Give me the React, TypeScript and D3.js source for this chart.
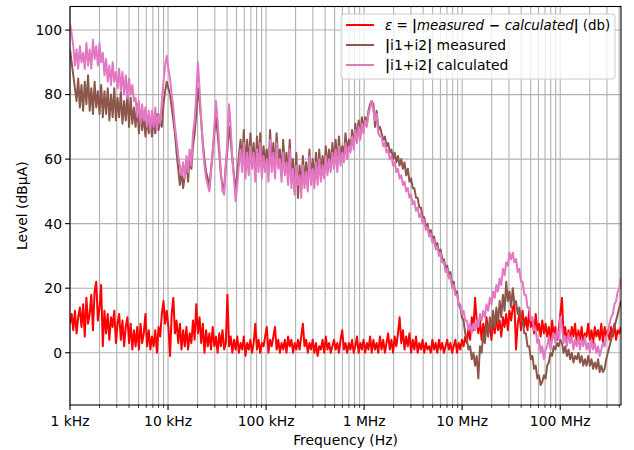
import React from "react";
import * as d3 from "d3";

// ---- data ----
const N_POINTS = 337;
const F_MIN = 1e3;
const F_MAX = 4.17e8;
const freqs: number[] = d3.range(N_POINTS).map((i) => F_MIN * Math.pow(F_MAX / F_MIN, i / (N_POINTS - 1)));

const errorDb: number[] = [
  9, 12, 7, 13, 6, 11, 14, 8, 15, 5,
  17, 9, 12, 18, 7, 19, 22, 10, 14, 21,
  2, 13, 6, 12, 4, 11, 8, 13, 3, 9,
  12, 4, 10, 2, 8, 11, 3, 9, 1, 7,
  2, 8, 1, 9, 3, 6, 12, 2, 7, 1,
  5, 2, 7, 0, 8, 5, 12, 16, 9, 13,
  8, -1, 12, 17, 6, 10, 3, 9, 1, 7,
  2, 8, 1, 6, 3, 10, 4, 15, 6, 11,
  3, 9, 0, 7, 2, 6, 1, 8, 2, 5,
  0, 6, 2, 7, 1, 3, 18, 2, 5, 0,
  4, 1, 5, 0, 3, 1, 5, -1, 3, 1,
  4, 0, 3, 9, 1, 4, 0, 3, 2, 5,
  8, 0, 4, 2, 5, 8, 1, 4, 0, 3,
  1, 4, 0, 5, 2, 4, 0, 3, 1, 4,
  1, 5, 9, 2, 4, 0, 3, 1, 4, 0,
  3, -1, 2, 1, 4, 0, 5, 1, 3, 0,
  2, 4, 1, 3, 0, 4, 7, 1, 3, 0,
  3, 1, 4, 0, 2, 5, 0, 3, 1, 4,
  0, 3, 1, 5, 0, 4, 1, 3, 0, 5,
  1, 4, 0, 3, 6, 1, 4, 0, 5, 2,
  6, 11, 3, 7, 1, 5, 2, 6, 0, 4,
  1, 5, 0, 3, 1, 4, 0, 3, 1, 2,
  0, 4, 1, 3, 0, 4, 1, 3, 0, 2,
  4, 1, 3, 0, 2, 4, 0, 3, 1, 4,
  2, 5, 3, 8, 4, 11, 7, 17, 10, 6,
  10, 4, 9, 5, 11, 6, 9, 4, 10, 6,
  11, 7, 10, 5, 11, 8, 12, 7, 13, 10,
  14, 15, 1, 9, 12, 7, 13, 8, 11, 7,
  13, 8, 10, 6, 12, 7, 9, 5, 10, 6,
  9, 5, 8, 4, 10, 5, 8, 4, 7, 12,
  17, 5, 8, 3, 7, 4, 8, 5, 9, 3,
  7, 4, 8, 3, 6, 5, 9, 4, 7, 3,
  8, 5, 7, 4, 9, 3, 8, 5, 7, 4,
  8, 5, 9, 4, 7, 6, 8,
];

const measured: number[] = [
  94, 90, 86, 82, 78, 85, 76, 83, 75, 84,
  77, 86, 75, 82, 74, 84, 76, 81, 74, 83,
  73, 81, 74, 82, 72, 80, 73, 82, 72, 79,
  73, 81, 71, 78, 72, 80, 70, 79, 71, 76,
  70, 77, 68, 75, 69, 74, 67, 73, 68, 72,
  67, 73, 68, 74, 69, 72, 70, 77, 81, 84,
  82, 80, 76, 72, 68, 62, 57, 52, 56, 51,
  55, 59, 53, 61, 57, 64, 68, 74, 82, 78,
  72, 65, 60, 56, 54, 51, 57, 62, 68, 73,
  68, 62, 55, 52, 51, 58, 63, 70, 66, 60,
  55, 50, 56, 61, 66, 59, 69, 57, 66, 58,
  68, 59, 65, 56, 67, 58, 68, 57, 64, 59,
  63, 56, 69, 58, 65, 57, 68, 59, 63, 55,
  66, 57, 62, 55, 66, 53, 60, 50, 62, 48,
  58, 51, 61, 53, 59, 52, 63, 54, 60, 53,
  62, 54, 63, 55, 61, 56, 64, 57, 63, 58,
  65, 59, 66, 58, 67, 60, 64, 61, 68, 62,
  66, 63, 69, 64, 71, 66, 72, 67, 73, 69,
  73, 71, 75, 77, 78, 77, 70, 75, 69, 70,
  68, 66, 67, 64, 65, 62, 63, 60, 62, 59,
  61, 58, 60, 57, 59, 55, 57, 53, 54, 51,
  51, 48, 48, 45, 45, 42, 42, 39, 40, 37,
  38, 35, 36, 33, 34, 31, 32, 29, 29, 26,
  27, 24, 25, 21, 22, 18, 19, 15, 14, 11,
  10, 6, 4, 1, 2, -2, 0, -4, -1, -8,
  2, 0, 6, 3, 9, 5, 11, 7, 13, 8,
  14, 9, 16, 11, 18, 13, 22, 16, 19, 14,
  20, 15, 16, 12, 14, 10, 10, 6, 6, 2,
  2, -2, -1, -5, -4, -8, -7, -10, -9, -7,
  -8, -4, -3, 0, -1, 2, 1, 3, 2, 4,
  3, 0, 2, -1, 1, -2, 0, -3, -1, -2,
  0, -3, -1, -4, -2, -4, -1, -4, -2, -5,
  -3, -5, -2, -6, -4, -6, -5, -2, 0, 2,
  4, 6, 8, 10, 12, 14, 16,
];

const calculated: number[] = [
  102, 99, 95, 89, 94, 88, 95, 90, 93, 88,
  96, 89, 94, 88, 97, 91, 95, 89, 96, 90,
  93, 86, 91, 84, 89, 83, 90, 84, 87, 82,
  88, 81, 87, 80, 86, 79, 85, 80, 83, 78,
  79, 73, 78, 71, 77, 72, 76, 70, 75, 69,
  75, 70, 76, 69, 74, 71, 78, 84, 89, 92,
  88, 85, 80, 76, 70, 66, 61, 58, 55, 59,
  54, 61, 56, 63, 58, 68, 72, 80, 90, 82,
  72, 64, 58, 54, 52, 50, 56, 62, 70, 78,
  72, 64, 56, 50, 49, 58, 66, 77, 70, 60,
  54, 47, 52, 58, 63, 56, 65, 54, 62, 55,
  64, 57, 62, 53, 63, 56, 65, 54, 61, 56,
  60, 53, 66, 56, 62, 54, 65, 57, 60, 53,
  62, 55, 59, 52, 63, 51, 57, 49, 58, 52,
  55, 48, 58, 51, 56, 50, 61, 52, 57, 51,
  59, 52, 60, 53, 58, 54, 61, 55, 60, 56,
  62, 57, 63, 56, 64, 58, 62, 59, 65, 60,
  64, 62, 67, 63, 69, 65, 70, 66, 71, 68,
  72, 70, 74, 76, 78, 75, 72, 74, 68, 67,
  67, 64, 65, 62, 63, 60, 61, 58, 59, 56,
  57, 54, 55, 52, 53, 50, 51, 48, 49, 46,
  47, 44, 45, 42, 43, 40, 41, 38, 39, 36,
  37, 34, 35, 32, 33, 30, 31, 28, 28, 25,
  26, 23, 24, 20, 21, 18, 18, 15, 15, 12,
  13, 10, 10, 7, 9, 6, 9, 7, 10, 8,
  12, 10, 13, 11, 15, 13, 17, 15, 19, 17,
  21, 19, 23, 21, 26, 24, 28, 27, 31, 29,
  31, 28, 29, 25, 26, 22, 22, 18, 18, 14,
  14, 10, 11, 7, 7, 3, 4, 0, 2, -2,
  1, 2, 5, 1, 4, 6, 3, 7, 4, 11,
  8, 3, 5, 2, 6, 3, 5, 1, 4, 2,
  5, 1, 4, 2, 5, 1, 3, 0, 4, 1,
  3, 0, 2, -1, 1, 3, 2, 5, 6, 9,
  11, 12, 15, 16, 19, 20, 23,
];

const majorTicks: number[] = [1e3, 1e4, 1e5, 1e6, 1e7, 1e8];
const majorLabels: string[] = ["1 kHz", "10 kHz", "100 kHz", "1 MHz", "10 MHz", "100 MHz"];
const yTicks: number[] = [0, 20, 40, 60, 80, 100];

const seriesNames = ["error", "measured", "calculated"];
const seriesColors = ["#ff0000", "#8c564b", "#e377c2"];

const W = 634;
const H = 450;
const M = { left: 70, right: 621, top: 6.5, bottom: 405 };
const FONT = "'DejaVu Sans', sans-serif";
const FS = 13.9;

export default function App() {
  const x = d3.scaleLog().domain([F_MIN, F_MAX]).range([M.left, M.right]);
  const y = d3.scaleLinear().domain([-16.2, 107.3]).range([M.bottom, M.top]);

  const minorTicks: number[] = [];
  for (let dec = 1e3; dec <= 1e8; dec *= 10) {
    for (let k = 2; k <= 9; k++) {
      const f = dec * k;
      if (f <= F_MAX) minorTicks.push(f);
    }
  }

  const line = d3
    .line<number>()
    .x((_, i) => x(freqs[i]))
    .y((d) => y(d));

  const allSeries = [errorDb, measured, calculated];

  const lx0 = 346, lx1 = 374, ltx = 385;
  const rows = [25, 45, 65];

  return (
    <svg
      width={W}
      height={H}
      style={{ position: "absolute", left: 0, top: 0, background: "#fff" }}
      fontFamily={FONT}
    >
      <defs>
        <clipPath id="plotclip">
          <rect x={M.left} y={M.top} width={M.right - M.left} height={M.bottom - M.top} />
        </clipPath>
      </defs>
      <rect x={0} y={0} width={W} height={H} fill="#fff" />
      {/* grid */}
      <g stroke="#b0b0b0" strokeWidth={1.1}>
        {[...majorTicks, ...minorTicks].map((f, i) => (
          <line key={"gx" + i} x1={x(f)} x2={x(f)} y1={M.top} y2={M.bottom} />
        ))}
        {yTicks.map((v) => (
          <line key={"gy" + v} x1={M.left} x2={M.right} y1={y(v)} y2={y(v)} />
        ))}
      </g>
      {/* series */}
      <g clipPath="url(#plotclip)" fill="none" strokeWidth={2} strokeLinejoin="round">
        {allSeries.map((s, k) => (
          <path key={seriesNames[k]} d={line(s) || ""} stroke={seriesColors[k]} />
        ))}
      </g>
      {/* spines */}
      <rect
        x={M.left}
        y={M.top}
        width={M.right - M.left}
        height={M.bottom - M.top}
        fill="none"
        stroke="#000"
        strokeWidth={1.1}
      />
      {/* ticks */}
      <g stroke="#000" strokeWidth={1.1}>
        {majorTicks.map((f) => (
          <line key={"tx" + f} x1={x(f)} x2={x(f)} y1={M.bottom} y2={M.bottom + 4.9} />
        ))}
        {minorTicks.map((f) => (
          <line key={"mx" + f} x1={x(f)} x2={x(f)} y1={M.bottom} y2={M.bottom + 2.8} strokeWidth={0.8} />
        ))}
        {yTicks.map((v) => (
          <line key={"ty" + v} x1={M.left - 4.9} x2={M.left} y1={y(v)} y2={y(v)} />
        ))}
      </g>
      <g fontSize={FS} fill="#000">
        {majorTicks.map((f, i) => (
          <text key={"lx" + f} x={x(f)} y={M.bottom + 21} textAnchor="middle">
            {majorLabels[i]}
          </text>
        ))}
        {yTicks.map((v) => (
          <text key={"ly" + v} x={M.left - 8} y={y(v)} dy="0.35em" textAnchor="end">
            {v}
          </text>
        ))}
        <text x={(M.left + M.right) / 2} y={445} textAnchor="middle">
          Frequency (Hz)
        </text>
        <text
          transform={`translate(27,${(M.top + M.bottom) / 2}) rotate(-90)`}
          textAnchor="middle"
        >
          Level (dBµA)
        </text>
      </g>
      {/* legend */}
      <g>
        <rect
          x={341}
          y={14}
          width={274}
          height={65}
          rx={3}
          fill="#fff"
          fillOpacity={0.8}
          stroke="#cccccc"
          strokeWidth={1}
        />
        {rows.map((ry, k) => (
          <line key={"lg" + k} x1={lx0} x2={lx1} y1={ry} y2={ry} stroke={seriesColors[k]} strokeWidth={2} />
        ))}
        <text x={ltx} y={rows[0]} dy="0.35em" fontSize={13.4}>
          <tspan fontStyle="italic">ε</tspan>
          <tspan> = </tspan>
          <tspan fontWeight="bold">|</tspan>
          <tspan fontStyle="italic">measured</tspan>
          <tspan fontWeight="bold"> − </tspan>
          <tspan fontStyle="italic">calculated</tspan>
          <tspan fontWeight="bold">|</tspan>
          <tspan> (db)</tspan>
        </text>
        <text x={ltx} y={rows[1]} dy="0.35em" fontSize={FS}>
          <tspan fontWeight="bold">|</tspan>
          <tspan>i1+i2</tspan>
          <tspan fontWeight="bold">|</tspan>
          <tspan> measured</tspan>
        </text>
        <text x={ltx} y={rows[2]} dy="0.35em" fontSize={FS}>
          <tspan fontWeight="bold">|</tspan>
          <tspan>i1+i2</tspan>
          <tspan fontWeight="bold">|</tspan>
          <tspan> calculated</tspan>
        </text>
      </g>
    </svg>
  );
}
